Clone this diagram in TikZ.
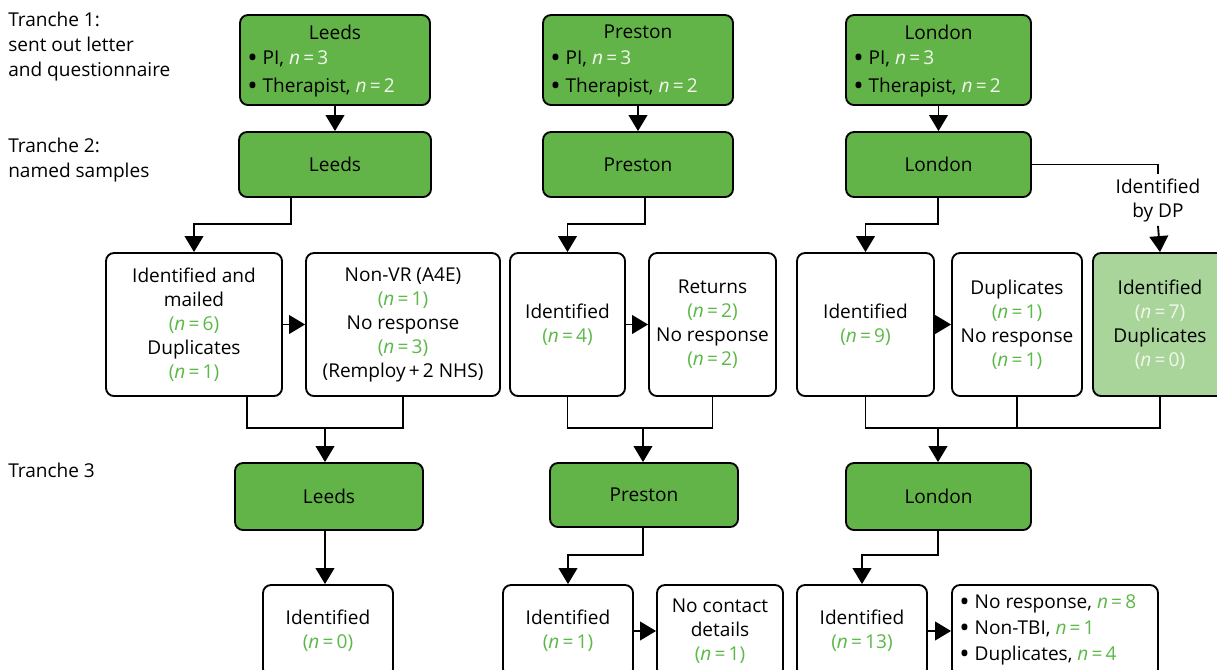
\documentclass[tikz,border=0pt]{standalone}
\usepackage{fontspec}
\usepackage{graphicx}
\setmainfont{Open Sans}
\usetikzlibrary{arrows.meta,calc}
\definecolor{gfill}{HTML}{62B448}
\definecolor{lgfill}{HTML}{A9D59B}
\definecolor{ngreen}{HTML}{5CB947}
\definecolor{wtext}{HTML}{F2F8EE}
\newcommand\grp[1]{\textcolor{ngreen}{(\textit{n}\,=\,#1)}}
\newcommand\grn[1]{\textcolor{ngreen}{\textit{n}\,=\,#1}}
\newcommand\whp[1]{\textcolor{wtext}{(\textit{n}\,=\,#1)}}
\newcommand\whn[1]{\textcolor{wtext}{\textit{n}\,=\,#1}}
\newcommand\bul{\raisebox{-0.14em}{\scalebox{1.45}{\textbullet}}\ }
\tikzset{
  sz/.style 2 args={minimum width=#1*0.75pt, minimum height=#2*0.75pt},
  base/.style={draw=black, line width=1.4pt, rounded corners=6pt, inner sep=0pt, align=center,
     font=\fontsize{14.3}{18}\selectfont},
  gbox/.style={base, fill=gfill},
  lbox/.style={base, fill=lgfill},
  wbox/.style={base, fill=white},
  txt/.style={inner sep=0pt, align=center, font=\fontsize{14.3}{18}\selectfont},
  ltxt/.style={inner sep=0pt, align=left, font=\fontsize{14.3}{18.75}\selectfont},
  line/.style={line width=1.4pt},
  arr/.style={line width=1.4pt, -{Triangle[width=14pt,length=12pt]}},
}
\begin{document}
\begin{tikzpicture}[x=0.75pt,y=-0.75pt]
\useasboundingbox (0,0) rectangle (1217,669);
\clip (0,0) rectangle (1217,669);
% tranche labels
\node[ltxt, anchor=west] (tr1) at (8,47) {Tranche 1:\\sent out letter\\and questionnaire};
\node[ltxt, anchor=west] (tr2) at (8,160) {Tranche 2:\\named samples};
\node[ltxt, anchor=west] (tr3) at (8,470) {Tranche 3};
% tranche 1
\foreach \nm/\cx/\w/\city in {t1l/335/190/Leeds, t1p/638/190/Preston, t1n/938.5/185/London}{
  \node[gbox, sz={\w}{90}] (\nm) at (\cx,60) {};
  \node[txt] (\nm-title) at (\cx,32) {\city};
  \node[txt, anchor=west, align=left, font=\fontsize{14.3}{21}\selectfont] (\nm-list) at ($(\nm.west)+(8,14)$)
     {\bul PI, \whn{3}\\\bul Therapist, \whn{2}};
}
% tranche 2
\node[gbox, sz={192}{65}] (t2l) at (335,164.5) {Leeds};
\node[gbox, sz={190}{65}] (t2p) at (638,164.5) {Preston};
\node[gbox, sz={185}{65}] (t2n) at (938.5,164.5) {London};
% row 3
\node[wbox, sz={176}{143}] (l1) at (194,324.5) {Identified and\\mailed\\\grp{6}\\Duplicates\\\grp{1}};
\node[wbox, sz={194}{143}] (l2) at (403,324.5) {Non-VR (A4E)\\\grp{1}\\No response\\\grp{3}\\(Remploy\,+\,2 NHS)};
\node[wbox, sz={115}{143}] (p1) at (567.5,324.5) {Identified\\\grp{4}};
\node[wbox, sz={127}{143}] (p2) at (712.5,324.5) {Returns\\\grp{2}\\No response\\\grp{2}};
\node[wbox, sz={137}{143}] (d1) at (865.5,324.5) {Identified\\\grp{9}};
\node[wbox, sz={130}{143}] (d2) at (1017,324.5) {Duplicates\\\grp{1}\\No response\\\grp{1}};
\node[lbox, sz={134}{143}] (d3) at (1160,324.5) {Identified\\\whp{7}\\Duplicates\\\whp{0}};
\node[txt, inner ysep=3pt] (dp) at (1158,200) {Identified\\by DP};
% tranche 3
\node[gbox, sz={188}{67}] (t3l) at (329,496.5) {Leeds};
\node[gbox, sz={188}{64}] (t3p) at (644,495) {Preston};
\node[gbox, sz={185}{67}] (t3n) at (938.5,496.5) {London};
% bottom row
\node[wbox, sz={130}{92}] (bl) at (328,631) {Identified\\\grp{0}};
\node[wbox, sz={130}{92}] (bp1) at (568,631) {Identified\\\grp{1}};
\node[wbox, sz={126}{92}] (bp2) at (720,631) {No contact\\details\\\grp{1}};
\node[wbox, sz={130}{92}] (bn1) at (862,631) {Identified\\\grp{13}};
\node[wbox, sz={206}{92}] (bn2) at (1055,631) {};
\node[txt, anchor=west, align=left, font=\fontsize{14.3}{19.5}\selectfont] (bn2-list) at ($(bn2.west)+(8,-1)$)
  {\bul No response, \grn{8}\\\bul Non-TBI, \grn{1}\\\bul Duplicates, \grn{4}};
% coordinates
\coordinate (kL) at (291,224);
\coordinate (kP) at (645,224);
\coordinate (kN) at (938,224);
\coordinate (xL) at (247,0);
\coordinate (mL) at (325,428);
\coordinate (mP) at (643,428);
\coordinate (mN) at (938,428);
\coordinate (qP) at (643,555);
\coordinate (qN) at (938,555);
% T1 -> T2
\draw[arr] (t1l.south) -- (t2l.north);
\draw[arr] (t1p.south) -- (t2p.north);
\draw[arr] (t1n.south) -- (t2n.north);
% T2 -> row 3
\draw[arr] (t2l.south -| kL) -- (kL) -| (l1.north);
\draw[arr] (t2p.south -| kP) -- (kP) -| (p1.north);
\draw[arr] (t2n.south -| kN) -- (kN) -| (d1.north);
\draw[line] (t2n.east) -| (dp.north);
\draw[arr] (dp.south) -- (d3.north);
% row 3 horizontals
\draw[arr] (l1.east) -- (l2.west);
\draw[arr] (p1.east) -- (p2.west);
\draw[arr] (d1.east) -- (d2.west);
% merges
\draw[line] (l1.south -| xL) |- (mL) -| (l2.south);
\draw[arr] (mL) -- (mL |- t3l.north);
\draw[line] (p1.south) |- (mP) -| (p2.south);
\draw[arr] (mP) -- (mP |- t3p.north);
\draw[line] (d1.south) |- (mN) -| (d3.south);
\draw[line] (d2.south) -- (d2.south |- mN);
\draw[arr] (mN) -- (mN |- t3n.north);
% T3 -> bottom
\draw[arr] (t3l.south -| mL) -- (bl.north -| mL);
\draw[arr] (t3p.south -| qP) -- (qP) -| (bp1.north);
\draw[arr] (t3n.south -| qN) -- (qN) -| (bn1.north);
\draw[arr] (bp1.east) -- (bp2.west);
\draw[arr] (bn1.east) -- (bn2.west);
\end{tikzpicture}
\end{document}
